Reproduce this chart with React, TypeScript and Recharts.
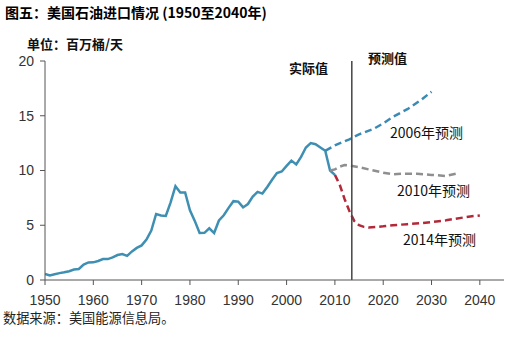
import { LineChart, Line, XAxis, YAxis, ReferenceLine } from "recharts";

// actual net imports, million bbl/day
const actualYears = [
  1950, 1951, 1952, 1953, 1954, 1955, 1956, 1957, 1958, 1959, 1960, 1961, 1962,
  1963, 1964, 1965, 1966, 1967, 1968, 1969, 1970, 1971, 1972, 1973, 1974, 1975,
  1976, 1977, 1978, 1979, 1980, 1981, 1982, 1983, 1984, 1985, 1986, 1987, 1988,
  1989, 1990, 1991, 1992, 1993, 1994, 1995, 1996, 1997, 1998, 1999, 2000, 2001,
  2002, 2003, 2004, 2005, 2006, 2007, 2008, 2009, 2010,
];
const actualValues = [
  0.55, 0.42, 0.52, 0.63, 0.7, 0.8, 0.95, 1.0, 1.4, 1.6, 1.61, 1.74, 1.91,
  1.91, 2.06, 2.28, 2.37, 2.21, 2.61, 2.93, 3.16, 3.7, 4.52, 6.03, 5.89, 5.85,
  7.09, 8.57, 8.0, 7.99, 6.36, 5.4, 4.3, 4.31, 4.72, 4.29, 5.44, 5.91, 6.59,
  7.2, 7.16, 6.63, 6.94, 7.62, 8.05, 7.89, 8.5, 9.16, 9.76, 9.91, 10.42, 10.9,
  10.55, 11.24, 12.1, 12.5, 12.4, 12.1, 11.8, 10.0, 9.6,
];

const p2006Years = [2008, 2010, 2013, 2015, 2018, 2020, 2022, 2025, 2028, 2030];
const p2006Values = [11.8, 12.3, 12.85, 13.3, 13.8, 14.3, 14.9, 15.6, 16.5, 17.2];

const p2010Years = [2009, 2010, 2011, 2012, 2013, 2015, 2017, 2020, 2022, 2024, 2027, 2030, 2033, 2035];
const p2010Values = [10.0, 10.1, 10.35, 10.5, 10.45, 10.3, 10.1, 9.8, 9.65, 9.7, 9.7, 9.6, 9.5, 9.7];

const p2014Years = [2010, 2011, 2012, 2013, 2014, 2015, 2016, 2017, 2020, 2022, 2025, 2028, 2030, 2033, 2035, 2038, 2040];
const p2014Values = [9.6, 8.7, 7.4, 6.3, 5.4, 5.0, 4.85, 4.8, 4.9, 5.0, 5.1, 5.2, 5.3, 5.45, 5.6, 5.8, 5.9];

const xTicks = [1950, 1960, 1970, 1980, 1990, 2000, 2010, 2020, 2030, 2040];
const yTicks = [0, 5, 10, 15, 20];

type Row = { year: number; actual?: number; p2006?: number; p2010?: number; p2014?: number };

function buildRows(): Row[] {
  const map = new Map<number, Row>();
  const put = (years: number[], vals: number[], key: keyof Row) => {
    years.forEach((y, i) => {
      const r = map.get(y) ?? { year: y };
      (r as any)[key] = vals[i];
      map.set(y, r);
    });
  };
  put(actualYears, actualValues, "actual");
  put(p2006Years, p2006Values, "p2006");
  put(p2010Years, p2010Values, "p2010");
  put(p2014Years, p2014Values, "p2014");
  return [...map.values()].sort((a, b) => a.year - b.year);
}

const rows = buildRows();
const cjk = '"Noto Sans CJK SC", "Noto Sans", sans-serif';
const tickStyle = { fontSize: 14, fill: "#333", fontFamily: '"Liberation Sans", Arial, sans-serif' };

const label = (text: string, left: number, top: number, extra: any = {}) => (
  <div
    style={{
      position: "absolute",
      left,
      top,
      fontFamily: cjk,
      fontSize: 13,
      color: "#111",
      whiteSpace: "nowrap",
      lineHeight: 1,
      ...extra,
    }}
  >
    {text}
  </div>
);

export default function App() {
  return (
    <div style={{ position: "absolute", left: 0, top: 0, width: 512, height: 337, background: "#fff" }}>
      <LineChart width={512} height={337} data={rows} margin={{ top: 61, right: 8, bottom: 27, left: 0 }}>
        <XAxis
          dataKey="year"
          type="number"
          domain={[1950, 2045]}
          ticks={xTicks}
          tick={tickStyle}
          tickSize={5}
          tickMargin={10}
          stroke="#555"
          height={30}
          allowDataOverflow
        />
        <YAxis
          type="number"
          domain={[0, 20]}
          ticks={yTicks}
          tick={tickStyle}
          tickSize={5}
          tickMargin={6}
          stroke="#555"
          width={45}
        />
        <Line dataKey="actual" stroke="#3f8fb3" strokeWidth={2.5} dot={false} isAnimationActive={false} connectNulls />
        <Line dataKey="p2006" stroke="#3b8ab5" strokeWidth={2.5} strokeDasharray="7 4" dot={false} isAnimationActive={false} connectNulls />
        <Line dataKey="p2010" stroke="#8f8f8f" strokeWidth={2.5} strokeDasharray="7 4" dot={false} isAnimationActive={false} connectNulls />
        <Line dataKey="p2014" stroke="#b22a3a" strokeWidth={2.5} strokeDasharray="7 4" dot={false} isAnimationActive={false} connectNulls />
        <ReferenceLine x={2013.5} stroke="#444" strokeWidth={1.5} />
      </LineChart>
      {label("图五：美国石油进口情况 (1950至2040年)", 5, 5, { fontSize: 14, fontWeight: 700, color: "#000" })}
      {label("单位：百万桶/天", 27, 37, { fontWeight: 700 })}
      {label("实际值", 289, 61, { fontWeight: 700 })}
      {label("预测值", 368, 51, { fontWeight: 700 })}
      {label("2006年预测", 390, 125, { fontSize: 14 })}
      {label("2010年预测", 397, 183, { fontSize: 14 })}
      {label("2014年预测", 403, 232, { fontSize: 14 })}
      {label("数据来源：美国能源信息局。", 3, 311, { color: "#222", fontSize: 13.2 })}
    </div>
  );
}
